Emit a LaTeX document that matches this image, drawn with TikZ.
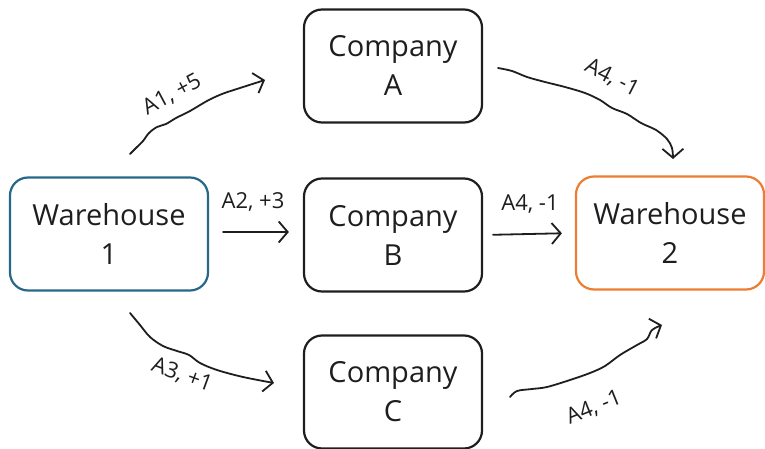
\documentclass[tikz,border=0pt]{standalone}
\usepackage{fontspec}
\setmainfont{Open Sans}
\usetikzlibrary{arrows.meta}
\definecolor{ink}{RGB}{30,30,30}
\definecolor{wblue}{RGB}{38,104,138}
\definecolor{worange}{RGB}{237,125,49}
\tikzset{
  box/.style={draw=ink, line width=2.2pt, rounded corners=18pt, align=center,
    text=ink, font=\fontsize{29}{39}\selectfont, inner sep=0pt},
  lbl/.style={text=ink, font=\fontsize{22}{24}\selectfont, inner sep=0pt},
  arr/.style={draw=ink, line width=1.8pt, line cap=round, line join=round,
    -{Straight Barb[length=9pt,width=21pt,line width=1.8pt]}},
}
\begin{document}
\begin{tikzpicture}[x=1pt,y=-1pt]
\useasboundingbox (0,0) rectangle (765,449);
% boxes
\node[box, draw=wblue, minimum width=198pt, minimum height=113pt] (w1) at (109,234) {Warehouse\\1};
\node[box, minimum width=178pt, minimum height=113pt] (ca) at (393,66) {Company\\A};
\node[box, minimum width=178pt, minimum height=113pt] (cb) at (393,235) {Company\\B};
\node[box, minimum width=178pt, minimum height=113pt] (cc) at (393,392) {Company\\C};
\node[box, draw=worange, minimum width=188pt, minimum height=113pt] (w2) at (670,233) {Warehouse\\2};
% straight arrows
\draw[arr, shorten <=14pt, shorten >=14pt] (w1.east |- 0,232) -- (cb.west |- 0,232);
\node[lbl] (l2) at (253,202) {A2, +3};
\draw[arr, shorten <=10pt, shorten >=13pt] (cb.east) -- (w2.west);
\node[lbl] (l4b) at (530,204) {A4, -1};
% curved arrows
\coordinate (a1s) at (130,154);
\coordinate (a1e) at (265,80);
\draw[arr] plot[smooth, tension=0.55] coordinates {(a1s) (137,147) (143,141) (149,133) (157,127) (166,124) (176,118) (190,111) (207,101) (222,94) (240,88) (a1e)};
\node[lbl, rotate=28] (l1) at (172,95) {A1, +5};
\coordinate (a4as) at (498,68);
\coordinate (a4ae) at (673,159);
\draw[arr] plot[smooth, tension=0.55] coordinates {(a4as) (512,71) (527,77) (545,82) (565,87) (585,93) (600,100) (612,108) (627,114) (641,123) (656,130) (667,139) (672,148) (a4ae)};
\node[lbl, rotate=-27] (l4a) at (612,78) {A4, -1};
\coordinate (a3s) at (130,313);
\coordinate (a3e) at (274,383);
\draw[arr] plot[smooth, tension=0.55] coordinates {(a3s) (140,325) (150,337) (163,346) (177,351) (189,355) (200,363) (217,370) (243,377) (a3e)};
\node[lbl, rotate=-20] (l3) at (182,375) {A3, +1};
\coordinate (a4cs) at (510,397);
\coordinate (a4ce) at (662,325);
\draw[arr] plot[smooth, tension=0.55] coordinates {(a4cs) (517,391) (532,389) (547,387) (570,380) (590,373) (605,366) (620,355) (637,345) (647,339) (652,330) (a4ce)};
\node[lbl, rotate=22] (l4c) at (594,408) {A4, -1};
\end{tikzpicture}
\end{document}
